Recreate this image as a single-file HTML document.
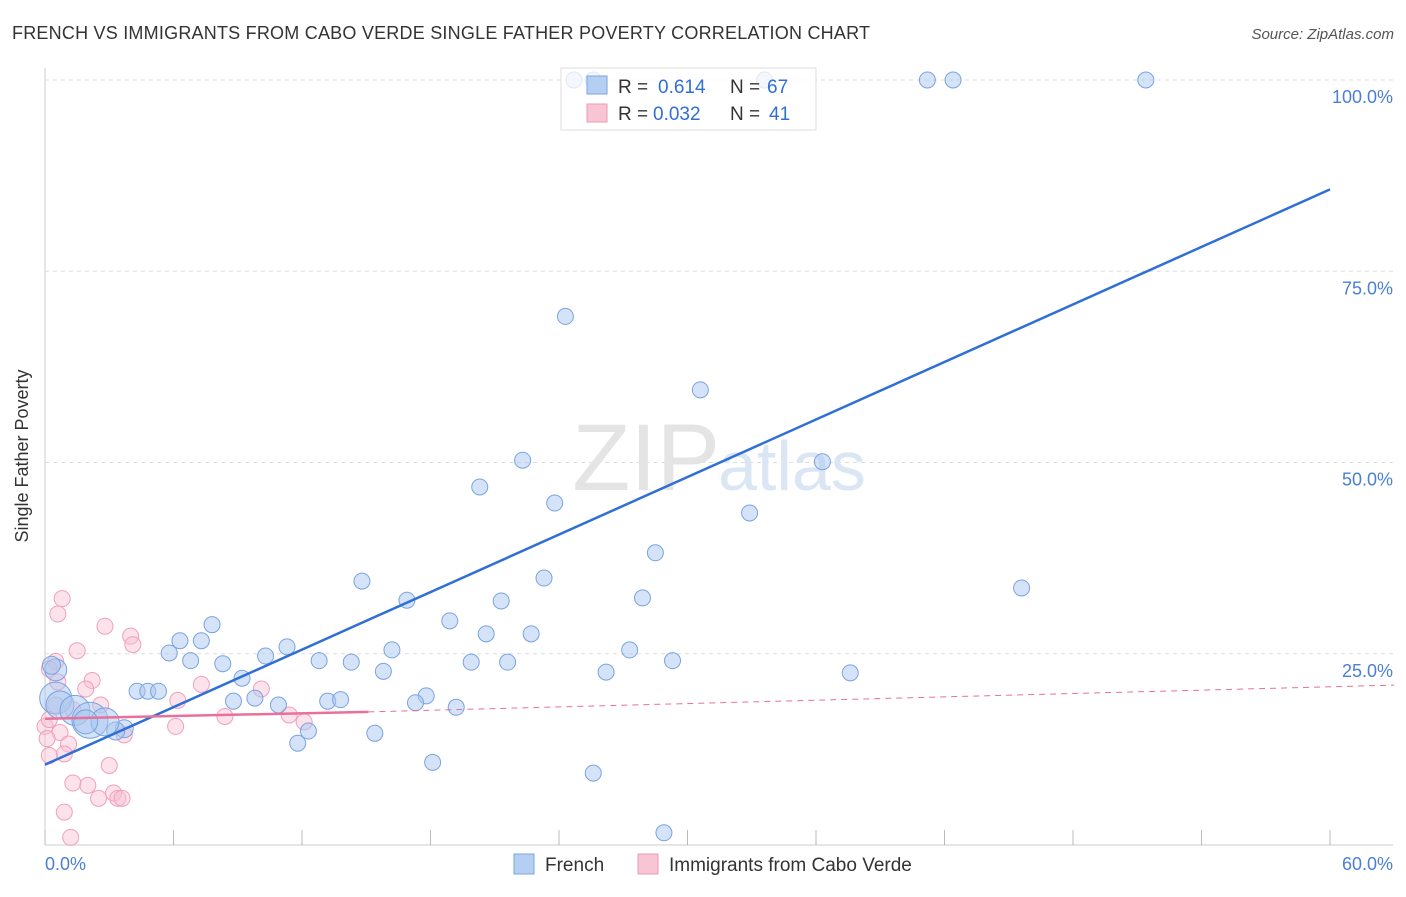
<!DOCTYPE html>
<html><head><meta charset="utf-8"><style>
body{margin:0;background:#fff;font-family:"Liberation Sans",sans-serif;}
svg text{font-family:"Liberation Sans",sans-serif;}
</style></head><body>
<svg width="1406" height="892">
<text x="12" y="39" font-size="18" fill="#333" textLength="858">FRENCH VS IMMIGRANTS FROM CABO VERDE SINGLE FATHER POVERTY CORRELATION CHART</text>
<text x="1394" y="39" font-size="15" fill="#555" text-anchor="end" font-style="italic">Source: ZipAtlas.com</text>
<g id="grid"></g>
<text x="720" y="490" font-size="95" fill="#e4e4e4" text-anchor="end" font-family="Liberation Serif">ZIP</text>
<text x="718" y="490" font-size="70" fill="#dbe6f5">atlas</text>
<g id="marks"></g>
<text x="28" y="456" font-size="18" fill="#333" text-anchor="middle" transform="rotate(-90 28 456)">Single Father Poverty</text>
<text x="45" y="870" font-size="18" fill="#4a7fd4">0.0%</text>
<text x="1393" y="870" font-size="18" fill="#4a7fd4" text-anchor="end">60.0%</text>
<g>
<rect x="561" y="68" width="255" height="62" fill="rgba(255,255,255,0.75)" stroke="#ddd"/>
<rect x="587" y="76" width="20" height="18" fill="#b5cff3" stroke="#7aa3e0"/>
<text x="618" y="93" font-size="19" fill="#333">R =</text>
<text x="658" y="93" font-size="19" fill="#2f6fd6">0.614</text>
<text x="730" y="93" font-size="19" fill="#333">N =</text>
<text x="767" y="93" font-size="19" fill="#2f6fd6">67</text>
<rect x="587" y="104" width="20" height="18" fill="#f8c5d5" stroke="#ee9ab5"/>
<text x="618" y="120" font-size="19" fill="#333">R =</text>
<text x="653" y="120" font-size="19" fill="#2f6fd6">0.032</text>
<text x="730" y="120" font-size="19" fill="#333">N =</text>
<text x="769" y="120" font-size="19" fill="#2f6fd6">41</text>
</g>
<g>
<rect x="514" y="854" width="20" height="20" fill="#b5cff3" stroke="#7aa3e0"/>
<text x="545" y="871" font-size="19" fill="#333">French</text>
<rect x="638" y="854" width="20" height="20" fill="#f8c5d5" stroke="#ee9ab5"/>
<text x="669" y="871" font-size="19" fill="#333">Immigrants from Cabo Verde</text>
</g>
</svg>
<script>
const yTicks=[25,50,75,100];
const yTickLabels=["25.0%","50.0%","75.0%","100.0%"];
const xTicks=[0,6,12,18,24,30,36,42,48,54,60];
const frenchX=[24.7,25.6,33.6,41.2,42.4,51.4,24.3,30.6,22.3,36.3,20.3,23.8,32.9,28.5,45.6,14.8,23.3,16.9,21.3,27.9,7.8,6.3,7.3,18.9,20.6,22.7,11.3,16.2,27.3,5.8,10.3,6.8,12.8,14.3,19.9,21.6,29.3,8.3,26.2,15.8,37.6,9.2,4.3,4.8,5.3,9.8,8.8,13.2,13.8,17.8,10.9,17.3,19.2,3.7,3.3,12.3,0.5,0.7,1.4,2.1,2.8,1.9,11.8,15.4,18.1,25.6,28.9,0.5,0.3];
const frenchY=[100,100,100,100,100,100,69.1,59.5,50.3,50.1,46.8,44.7,43.4,38.2,33.6,34.5,34.9,32.0,31.9,32.3,28.8,26.7,26.7,29.3,27.6,27.6,25.9,25.5,25.5,25.1,24.7,24.1,24.1,23.9,23.9,23.9,24.1,23.7,22.6,22.7,22.5,21.8,20.1,20.1,20.1,19.2,18.8,18.8,19.0,19.5,18.3,18.6,18.0,15.2,14.9,14.9,19.2,18.3,17.6,16.3,16.1,16.1,13.3,14.6,10.8,9.4,1.6,22.9,23.5];
const frenchR=[8,8,8,8,8,8,8,8,8,8,8,8,8,8,8,8,8,8,8,8,8,8,8,8,8,8,8,8,8,8,8,8,8,8,8,8,8,8,8,8,8,8,8,8,8,8,8,8,8,8,8,8,8,9,9,8,16,14,15,18,14,12,8,8,8,8,8,11,9];
const caboX=[0.8,0.6,2.8,4.0,4.1,1.5,0.5,0.2,0.6,2.2,1.9,7.3,6.2,10.1,0.5,1.3,8.4,11.4,12.1,6.1,0,0.7,3.7,0.1,1.1,0.9,0.2,3.0,1.3,2.0,2.5,3.2,3.4,3.6,0.9,1.2,0.2,2.6];
const caboY=[32.2,30.2,28.6,27.3,26.2,25.4,24.0,23.0,21.3,21.5,20.4,21.0,18.9,20.4,18.3,17.7,16.8,17.0,16.1,15.5,15.5,14.7,14.4,13.9,13.2,11.9,11.7,10.4,8.1,7.8,6.1,6.8,6.1,6.1,4.3,1.0,16.4,18.3];
const blueLine=[10.5,85.7];
const pinkLine=[16.5,17.4,20.9];
const X=v=>45+v*(1285/60), Y=v=>845-v*7.65;
const ns="http://www.w3.org/2000/svg";
function mk(t,a,p){const e=document.createElementNS(ns,t);for(const k in a)e.setAttribute(k,a[k]);p.appendChild(e);return e;}
const g=document.getElementById('grid'),m=document.getElementById('marks');
mk('line',{x1:45,y1:68,x2:45,y2:845,stroke:'#ccc'},g);
const bl=mk('line',{x1:45,y1:845,x2:1393,y2:845,stroke:'#ccc'},g);

yTicks.forEach((t,i)=>{const l=mk('line',{x1:45,x2:1393,y1:Y(t),y2:Y(t),stroke:'#ddd','stroke-dasharray':'4,4'},g);


const tx=mk('text',{x:1393,y:Y(t)+23,'font-size':18,fill:'#4a7fd4','text-anchor':'end'},g);tx.textContent=yTickLabels[i];

});
xTicks.forEach(t=>{const l=mk('line',{x1:X(t),x2:X(t),y1:830,y2:845,stroke:'#bbb'},g);

});
caboX.forEach((v,i)=>{const c=mk('circle',{cx:X(v),cy:Y(caboY[i]),r:8,fill:'rgba(248,190,210,0.45)',stroke:'#f0a0bb','stroke-width':1},m);

});
frenchX.forEach((v,i)=>{const c=mk('circle',{cx:X(v),cy:Y(frenchY[i]),r:frenchR[i],fill:'rgba(170,200,240,0.5)',stroke:'#7aa3e0','stroke-width':1},m);

});
const l1=mk('line',{x1:X(0),y1:Y(blueLine[0]),x2:X(60),y2:Y(blueLine[1]),stroke:'#2f6fd6','stroke-width':2.5},m);


const l2=mk('line',{x1:X(0),y1:Y(pinkLine[0]),x2:X(15.1),y2:Y(pinkLine[1]),stroke:'#e8709a','stroke-width':2.5},m);


const l3=mk('line',{x1:X(15.1),y1:Y(pinkLine[1]),x2:X(63),y2:Y(pinkLine[2]),stroke:'#e8709a','stroke-width':1,'stroke-dasharray':'6,5'},m);


</script>
</body></html>
